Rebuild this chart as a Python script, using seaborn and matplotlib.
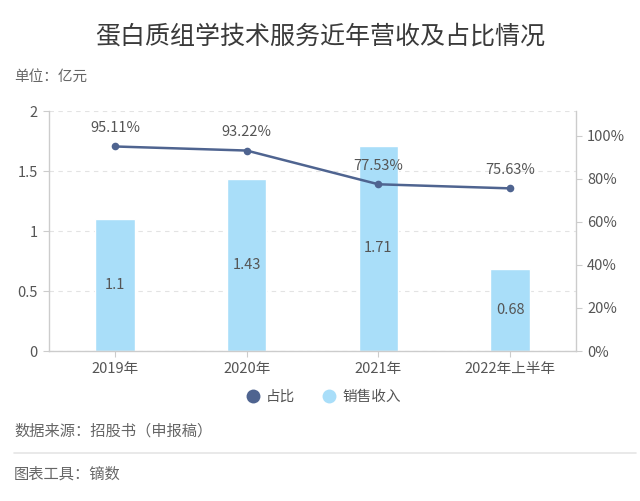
import matplotlib
matplotlib.use("Agg")
import matplotlib.pyplot as plt
import seaborn as sns
import pandas as pd
from matplotlib.lines import Line2D

categories = ["2019年", "2020年", "2021年", "2022年上半年"]
revenue = [1.1, 1.43, 1.71, 0.68]
share = [95.11, 93.22, 77.53, 75.63]
left_ticks = [0, 0.5, 1, 1.5, 2]
left_tick_labels = ["0", "0.5", "1", "1.5", "2"]
right_ticks = [0, 20, 40, 60, 80, 100]

sns.set_theme(style="white")
plt.rcParams['font.family'] = ['Noto Sans CJK SC', 'DejaVu Sans']

BAR = "#A9DEF9"
LINE = "#4F6490"
TXT = "#555555"
SPINE = "#CCCCCC"

df = pd.DataFrame({"cat": categories, "rev": revenue, "share": share})

fig = plt.figure(figsize=(6.4, 5.01), dpi=100)
ax = fig.add_axes([0.0766, 0.2994, 0.8234, 0.479])

sns.barplot(data=df, x="cat", y="rev", color=BAR, width=0.3, ax=ax,
            saturation=1, zorder=2)
ax.set_xlim(-0.5, 3.5)
ax.set_ylim(0, 2)
ax.set_yticks(left_ticks)
ax.set_yticklabels(left_tick_labels)
ax.set_xlabel("")
ax.set_ylabel("")
ax.grid(axis="y", linestyle=(0, (4, 4)), color="#E3E3E3", linewidth=0.8, zorder=0)
ax.set_axisbelow(True)
for s in ["top", "right"]:
    ax.spines[s].set_visible(False)
for s in ["left", "bottom"]:
    ax.spines[s].set_color(SPINE)
    ax.spines[s].set_linewidth(1)
ax.tick_params(axis="both", colors=TXT, labelsize=10.5, length=4, width=0.8,
               color=SPINE, direction="out", pad=4)
ax.tick_params(axis="y", left=True)
ax.tick_params(axis="x", bottom=True)

for p, v in zip(ax.patches, revenue):
    ax.text(p.get_x() + p.get_width() / 2, v / 2, f"{v:g}", ha="center",
            va="center", fontsize=10.5, color=TXT, zorder=5)

ax2 = ax.twinx()
sns.lineplot(x=list(range(len(categories))), y=share, ax=ax2, color=LINE,
             linewidth=1.8, marker="o", markersize=5.5, markeredgewidth=0,
             zorder=4)
ax2.set_ylim(0, 111.6)
ax2.set_yticks(right_ticks)
ax2.set_yticklabels([f"{t}%" for t in right_ticks])
ax2.set_xlim(-0.5, 3.5)
for s in ["top", "left", "bottom"]:
    ax2.spines[s].set_visible(False)
ax2.spines["right"].set_color(SPINE)
ax2.spines["right"].set_linewidth(1)
ax2.tick_params(axis="y", colors=TXT, labelsize=10.5, length=4, width=0.8,
                color=SPINE, right=True, pad=4)
ax2.grid(False)
for i, v in enumerate(share):
    ax2.annotate(f"{v:.2f}%", (i, v), xytext=(0, 8), textcoords="offset points",
                 ha="center", va="bottom", fontsize=10.5, color=TXT)

handles = [Line2D([], [], marker="o", linestyle="", markersize=10,
                  markerfacecolor=LINE, markeredgewidth=0),
           Line2D([], [], marker="o", linestyle="", markersize=10,
                  markerfacecolor=BAR, markeredgewidth=0)]
fig.legend(handles, ["占比", "销售收入"], loc="center", bbox_to_anchor=(0.505, 1 - 397 / 501),
           ncol=2, frameon=False, fontsize=10.5, labelcolor=TXT,
           handletextpad=0.4, columnspacing=1.8, handlelength=1.0)

fig.text(0.5, 1 - 37 / 501, "蛋白质组学技术服务近年营收及占比情况", ha="center",
         va="center", fontsize=18, color="#3A3A3A")
fig.text(14 / 640, 1 - 77 / 501, "单位：亿元", ha="left", va="center",
         fontsize=10.5, color="#666666")
fig.text(14 / 640, 1 - 431 / 501, "数据来源：招股书（申报稿）", ha="left",
         va="center", fontsize=11, color="#666666")
fig.add_artist(Line2D([14 / 640, 636 / 640], [1 - 453 / 501, 1 - 453 / 501],
                      color="#E5E5E5", linewidth=1.2, transform=fig.transFigure))
fig.text(14 / 640, 1 - 474 / 501, "图表工具：镝数", ha="left", va="center",
         fontsize=11, color="#666666")

fig.savefig("out.png", dpi=100, facecolor="white")
